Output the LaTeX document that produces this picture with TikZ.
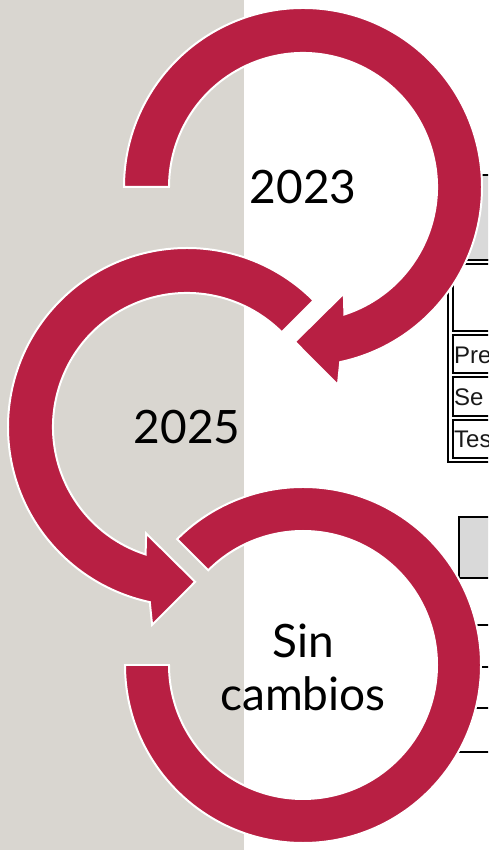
\documentclass[tikz,border=0pt]{standalone}
\usepackage{fontspec}
\setmainfont{Lato}
\newfontfamily\cellfont{Liberation Sans}
\usetikzlibrary{calc}
\definecolor{bandred}{RGB}{184,31,67}
\definecolor{sidegray}{RGB}{217,214,208}
\definecolor{headgray}{RGB}{217,217,217}
\tikzset{
	band/.style={fill=bandred, draw=white, line width=0.7mm, line join=miter},
	yeartext/.style={font=\fontsize{46}{53}\selectfont, align=center, inner sep=0pt},
	celltext/.style={font=\cellfont\fontsize{24}{26}\selectfont, text=black!90, anchor=base west, inner sep=0pt},
	tableframe/.style={line width=0.9mm, color=black},
	cellframe/.style={line width=0.6mm, color=black},
}

\begin{document}
\begin{tikzpicture}[x=1pt, y=1pt]
		%%%%% START %%%%%
		\clip (0, 0) rectangle (488, 850);
		\fill[sidegray] (0, 0) rectangle (244, 850);
		
		% table pieces behind the loops
		\draw[tableframe, fill=headgray] (448, 590) rectangle (520, 675);
		\draw[tableframe] (448, 388) rectangle (520, 590);
		\draw[cellframe] (453, 519) rectangle (520, 586);
		\draw[cellframe] (453, 477) rectangle (520, 515);
		\draw[cellframe] (453, 434) rectangle (520, 473);
		\draw[cellframe] (453, 392) rectangle (520, 430);
		\node[celltext] (pre) at (454, 486) {Pre};
		\node[celltext] (se) at (454, 444) {Se};
		\node[celltext] (tes) at (454, 402) {Tes};
		
		\draw[tableframe, fill=headgray] (459, 272) rectangle (520, 333);
		\draw[cellframe] (455, 225) -- (520, 225);
		\draw[cellframe] (455, 183) -- (520, 183);
		\draw[cellframe] (455, 142) -- (520, 142);
		\draw[tableframe] (455, 98) -- (520, 98);
		
		% centres of the three loops
		\coordinate (c1) at (303, 663);
		\coordinate (c2) at (187, 423);
		\coordinate (c3) at (303, 185);
		
		% bottom loop, no head
		\draw[band] ($(c3)+(180:178)$) arc[start angle=180, end angle=495, radius=178]
			-- ($(c3)+(135:134)$) arc[start angle=495, end angle=180, radius=134] -- cycle;
		
		% middle loop
		\draw[band] ($(c2)+(45:179)$) arc[start angle=45, end angle=258, radius=179]
			-- ($(c2)+(260:201)$) -- ($(c2)+(273:155)$) -- ($(c2)+(249:114)$)
			-- ($(c2)+(252:134)$) arc[start angle=252, end angle=45, radius=134] -- cycle;
		
		% top loop
		\draw[band] ($(c1)+(180:179)$) arc[start angle=180, end angle=-78, radius=179]
			-- ($(c1)+(-80:201)$) -- ($(c1)+(-93:155)$) -- ($(c1)+(-69:114)$)
			-- ($(c1)+(-72:134)$) arc[start angle=-72, end angle=180, radius=134] -- cycle;
		
		\node[yeartext] (y2023) at (c1) {2023};
		\node[yeartext] (y2025) at (c2) {2025};
		\node[yeartext] (same) at ($(c3)+(0,-2)$) {Sin\\cambios};
		%%%%% END %%%%%
	\end{tikzpicture}
\end{document}
